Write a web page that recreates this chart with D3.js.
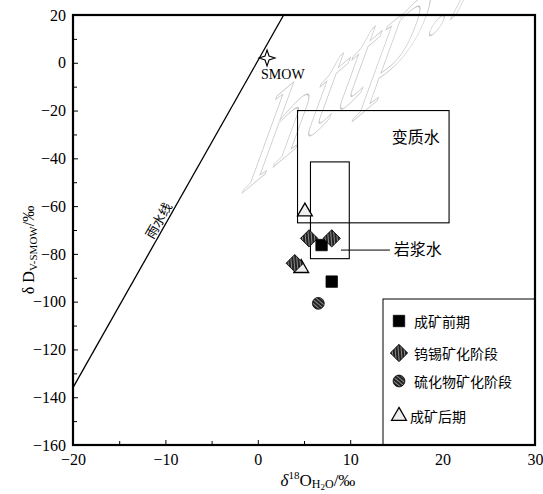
<!DOCTYPE html>
<html>
<head>
<meta charset="utf-8">
<script src="https://cdn.jsdelivr.net/npm/d3@7"></script>
<style>
  body { margin: 0; background: #fff; }
  text { font-family: "Liberation Serif", "DejaVu Serif", serif; }
  .cjk { font-family: "Noto Sans CJK SC", sans-serif; }
</style>
</head>
<body>
<svg id="chart"></svg>
<script>
const size = {w: 543, h: 494};
const margin = {t: 15, r: 8, b: 49, l: 73};

// data
const xDomain = [-20, 30];
const yDomain = [-160, 20];
const xTicks = [-20, -10, 0, 10, 20, 30];
const xMinor = [-15, -5, 5, 15, 25];
const yTicks = [20, 0, -20, -40, -60, -80, -100, -120, -140, -160];
const yMinor = [10, -10, -30, -50, -70, -90, -110, -130, -150];

const meteoricLine = [[-20, -136], [2.8, 20]];
const smow = [1, 2];
const metamorphicBox = {x: [4.3, 20.7], y: [-20, -67]};
const magmaticBox = {x: [5.7, 9.9], y: [-41.5, -82]};

const prePoints = [[6.9, -76.3], [8.0, -91.6]];          // 成矿前期
const wSnPoints = [[5.55, -73.5], [8.0, -73.5], [4.0, -83.9]]; // 钨锡矿化阶段
const sulfidePoints = [[6.55, -100.7]];                 // 硫化物矿化阶段
const postPoints = [[5.1, -62.3], [4.7, -86.0]];        // 成矿后期

const legendNames = ['成矿前期', '钨锡矿化阶段', '硫化物矿化阶段', '成矿后期'];

const svg = d3.select('svg#chart')
    .attr('width', size.w)
    .attr('height', size.h);

const defs = svg.append('defs');
const hatch = defs.append('pattern')
    .attr('id', 'hatch')
    .attr('width', 3).attr('height', 3)
    .attr('patternUnits', 'userSpaceOnUse')
    .attr('patternTransform', 'rotate(40)');
hatch.append('rect').attr('width', 3).attr('height', 3).attr('fill', '#222');
hatch.append('rect').attr('width', 3).attr('height', 1).attr('fill', '#8a8a8a');

const w = size.w - margin.l - margin.r;
const h = size.h - margin.t - margin.b;

const x = d3.scaleLinear().domain(xDomain).range([0, w]);
const y = d3.scaleLinear().domain(yDomain).range([h, 0]);

// watermark (sheared outline text)
svg.append('text')
    .attr('transform', 'matrix(0.766,-0.643,-0.342,0.94,240,195)')
    .attr('font-size', 150)
    .attr('fill', 'none')
    .attr('stroke', '#c6c6c6')
    .attr('stroke-width', 1.3)
    .attr('vector-effect', 'non-scaling-stroke')
    .text('http://');

const g = svg.append('g')
    .attr('transform', `translate(${margin.l}, ${margin.t})`);

g.append('clipPath').attr('id', 'clip')
    .append('rect').attr('width', w).attr('height', h);

// axes with inward ticks
g.append('g')
    .attr('transform', `translate(0, ${h})`)
    .call(d3.axisBottom(x).tickValues(xTicks).tickSize(-5).tickPadding(9).tickFormat(d3.format('d')))
    .call(a => a.select('.domain').remove())
    .call(a => a.selectAll('text').attr('font-size', 16).attr('font-family', 'Liberation Serif'));
g.append('g')
    .attr('transform', `translate(0, ${h})`)
    .call(d3.axisBottom(x).tickValues(xMinor).tickSize(-4).tickFormat(''))
    .call(a => a.select('.domain').remove());
g.append('g')
    .call(d3.axisLeft(y).tickValues(yTicks).tickSize(-5).tickPadding(7).tickFormat(d3.format('d')))
    .call(a => a.select('.domain').remove())
    .call(a => a.selectAll('text').attr('font-size', 16).attr('font-family', 'Liberation Serif'));
g.append('g')
    .call(d3.axisLeft(y).tickValues(yMinor).tickSize(-4).tickFormat(''))
    .call(a => a.select('.domain').remove());

const plot = g.append('g').attr('clip-path', 'url(#clip)');

// meteoric water line
plot.append('path')
    .attr('d', d3.line().x(d => x(d[0])).y(d => y(d[1]))(meteoricLine))
    .attr('fill', 'none')
    .attr('stroke', '#000')
    .attr('stroke-width', 1.3);

g.append('text')
    .attr('class', 'cjk')
    .attr('transform', `translate(${x(-10.3)}, ${y(-67)}) rotate(-60)`)
    .attr('text-anchor', 'middle')
    .attr('font-size', 13)
    .text('雨水线');

// boxes
[metamorphicBox, magmaticBox].forEach(b => {
    g.append('rect')
        .attr('x', x(b.x[0]))
        .attr('y', y(b.y[0]))
        .attr('width', x(b.x[1]) - x(b.x[0]))
        .attr('height', y(b.y[1]) - y(b.y[0]))
        .attr('fill', 'none')
        .attr('stroke', '#000')
        .attr('stroke-width', 1.1);
});

g.append('text')
    .attr('class', 'cjk')
    .attr('x', x(17.1)).attr('y', y(-30.5))
    .attr('text-anchor', 'middle')
    .attr('dominant-baseline', 'central')
    .attr('font-size', 16)
    .text('变质水');

g.append('line')
    .attr('x1', x(9.0)).attr('x2', x(14.3))
    .attr('y1', y(-78.4)).attr('y2', y(-78.4))
    .attr('stroke', '#000');
g.append('text')
    .attr('class', 'cjk')
    .attr('x', x(14.7)).attr('y', y(-77.5))
    .attr('dominant-baseline', 'central')
    .attr('font-size', 16)
    .text('岩浆水');

// SMOW star
const star4 = 'M0,-8 L2,-2 L8,0 L2,2 L0,8 L-2,2 L-8,0 L-2,-2 Z';
g.append('path')
    .attr('transform', `translate(${x(smow[0])}, ${y(smow[1])})`)
    .attr('d', star4)
    .attr('fill', '#fff')
    .attr('stroke', '#000')
    .attr('stroke-width', 1.1);
g.append('text')
    .attr('x', x(smow[0]) - 6).attr('y', y(smow[1]) + 21)
    .attr('font-size', 14)
    .text('SMOW');

// markers
const sym = {
    square: d3.symbol().type(d3.symbolSquare).size(130),
    diamond: d3.symbol().type(d3.symbolSquare).size(150),
    circle: d3.symbol().type(d3.symbolCircle).size(110),
    triangle: d3.symbol().type(d3.symbolTriangle).size(95)
};

function drawPoints(data, kind) {
    g.append('g').selectAll('path')
        .data(data)
        .join('path')
        .attr('transform', d => `translate(${x(d[0])}, ${y(d[1])})` + (kind === 'diamond' ? ' rotate(45)' : ''))
        .attr('d', sym[kind]())
        .attr('fill', kind === 'square' ? '#000' : kind === 'triangle' ? '#eee' : 'url(#hatch)')
        .attr('stroke', '#000')
        .attr('stroke-width', kind === 'triangle' ? 1.3 : 0.8);
}
drawPoints(postPoints, 'triangle');
drawPoints(prePoints, 'square');
drawPoints(wSnPoints, 'diamond');
drawPoints(sulfidePoints, 'circle');

// legend
const lg = g.append('g');
const lx = 383 - margin.l, ly = 299 - margin.t;
lg.append('rect')
    .attr('x', lx).attr('y', ly)
    .attr('width', w - lx).attr('height', h - ly)
    .attr('fill', '#fff')
    .attr('stroke', '#000')
    .attr('stroke-width', 1);
const kinds = ['square', 'diamond', 'circle', 'triangle'];
const rowsY = [22, 54, 82, 117];
lg.selectAll('g.item')
    .data(legendNames)
    .join('g')
    .attr('class', 'item')
    .attr('transform', (d, i) => `translate(${lx + 16}, ${ly + rowsY[i]})`)
    .each(function(d, i) {
        const k = kinds[i];
        d3.select(this).append('path')
            .attr('transform', k === 'diamond' ? 'rotate(45)' : null)
            .attr('d', sym[k]())
            .attr('fill', k === 'square' ? '#000' : k === 'triangle' ? '#eee' : 'url(#hatch)')
            .attr('stroke', '#000')
            .attr('stroke-width', k === 'triangle' ? 1.3 : 0.8);
        d3.select(this).append('text')
            .attr('class', 'cjk')
            .attr('x', k === 'triangle' ? 11 : 15)
            .attr('dominant-baseline', 'central')
            .attr('font-size', 14)
            .text(d);
    });

// frame
g.append('rect')
    .attr('width', w).attr('height', h)
    .attr('fill', 'none')
    .attr('stroke', '#000')
    .attr('stroke-width', 2.2);

// axis titles
const xt = svg.append('text')
    .attr('x', 318)
    .attr('y', 486)
    .attr('text-anchor', 'middle')
    .attr('font-size', 17);
xt.append('tspan').attr('font-style', 'italic').text('δ');
xt.append('tspan').attr('font-size', 11).attr('dy', -7).text('18');
xt.append('tspan').attr('dy', 7).text('O');
xt.append('tspan').attr('font-size', 12).attr('dy', 2).text('H');
xt.append('tspan').attr('font-size', 9).attr('dy', 2).text('2');
xt.append('tspan').attr('font-size', 12).attr('dy', -2).text('O');
xt.append('tspan').attr('dy', -2).text('/‰');

const yt = svg.append('text')
    .attr('transform', `translate(34, 250) rotate(-90)`)
    .attr('text-anchor', 'middle')
    .attr('font-size', 16);
yt.append('tspan').text('δ D');
yt.append('tspan').attr('font-size', 11).attr('dy', 3).text('V-SMOW');
yt.append('tspan').attr('dy', -3).text('/‰');
</script>
</body>
</html>
